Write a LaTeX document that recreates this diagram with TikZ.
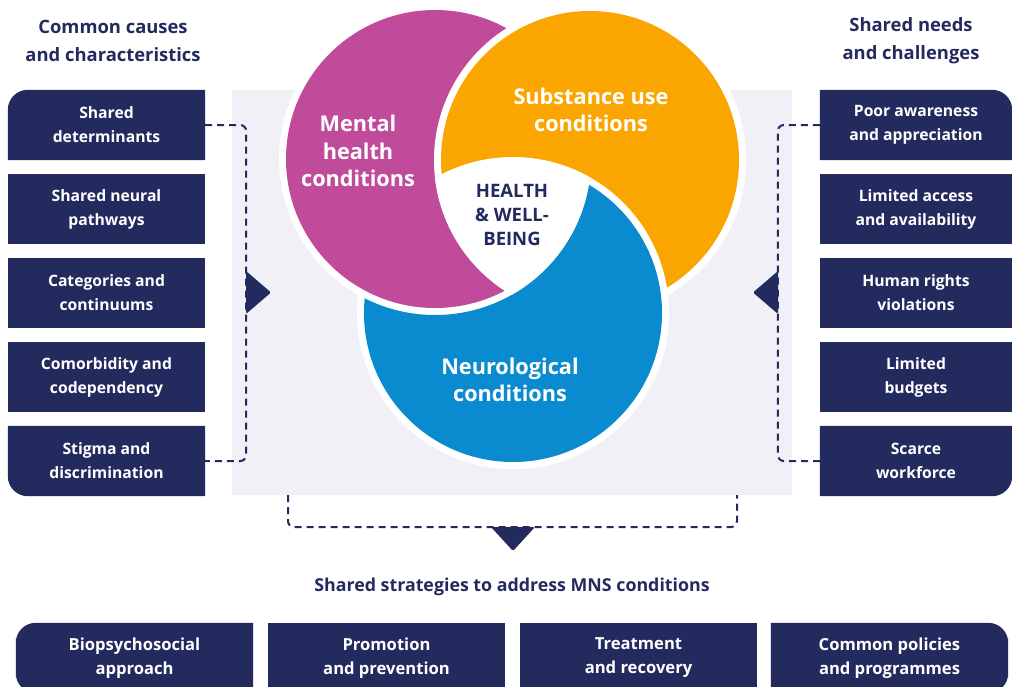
\documentclass[tikz,border=0pt]{standalone}
\usepackage{fontspec}
\setmainfont{Open Sans}
\usetikzlibrary{calc,backgrounds}

\definecolor{navy}{HTML}{232B5E}
\definecolor{mhpink}{HTML}{C04B9B}
\definecolor{suorange}{HTML}{FBA500}
\definecolor{neuroblue}{HTML}{0A8BCF}
\definecolor{panelgray}{HTML}{F1F0F6}

\begin{document}
\begin{tikzpicture}[x=1pt, y=-1pt,
        box/.style={rectangle, inner sep=0pt, minimum height=70pt, text=white, align=center, font=\bfseries\fontsize{15.7}{24}\selectfont},
        causebox/.style={box, minimum width=197pt, fill=navy},
        needbox/.style={box, minimum width=192pt, fill=navy},
        stratbox/.style={box, minimum width=237pt, fill=navy, font=\bfseries\fontsize{16.6}{24}\selectfont},
        heading/.style={text=navy, align=center, font=\bfseries\fontsize{18.4}{28}\selectfont},
        circlelabel/.style={text=white, align=center, font=\bfseries\fontsize{21.7}{27.5}\selectfont},
        bracket/.style={navy, line width=2pt, dash pattern=on 7pt off 5pt, rounded corners=6pt}]
        \useasboundingbox (0,0) rectangle (1012,686);
        \clip (0,0) rectangle (1012,686);

        \fill[panelgray] (232,90) rectangle (792,495);

        \node (hcause) [heading] at (113,41) {Common causes\\and characteristics};
        \node (hneed) [heading] at (911,41) {Shared needs\\and challenges};

        \node (lb1) [causebox, fill=none] at (106.5,125) {Shared\\determinants};
        \node (lb2) [causebox] at (106.5,209) {Shared neural\\pathways};
        \node (lb3) [causebox] at (106.5,293) {Categories and\\continuums};
        \node (lb4) [causebox] at (106.5,377) {Comorbidity and\\codependency};
        \node (lb5) [causebox, fill=none] at (106.5,461) {Stigma and\\discrimination};

        \node (rb1) [needbox, fill=none] at (916,125) {Poor awareness\\and appreciation};
        \node (rb2) [needbox] at (916,209) {Limited access\\and availability};
        \node (rb3) [needbox] at (916,293) {Human rights\\violations};
        \node (rb4) [needbox] at (916,377) {Limited\\budgets};
        \node (rb5) [needbox, fill=none] at (916,461) {Scarce\\workforce};

        \begin{scope}[on background layer]
            \fill[navy] (lb1.west) [rounded corners=20pt] |- (lb1.north) [sharp corners] -| (lb1.east) |- (lb1.south) -| (lb1.west) -- cycle;
            \fill[navy] (lb5.west) [rounded corners=20pt] |- (lb5.south) [sharp corners] -| (lb5.east) |- (lb5.north) -| (lb5.west) -- cycle;
            \fill[navy] (rb1.east) [rounded corners=20pt] |- (rb1.north) [sharp corners] -| (rb1.west) |- (rb1.south) -| (rb1.east) -- cycle;
            \fill[navy] (rb5.east) [rounded corners=20pt] |- (rb5.south) [sharp corners] -| (rb5.west) |- (rb5.north) -| (rb5.east) -- cycle;
        \end{scope}

        \coordinate (cm) at (435,159);
        \coordinate (cs) at (590,160);
        \coordinate (cn) at (513,313);
        \fill[white] (cm) circle[radius=156pt] (cs) circle[radius=156pt] (cn) circle[radius=156pt];
        \fill[mhpink] (cm) circle[radius=149pt];
        \fill[white] (cs) circle[radius=156pt];
        \fill[suorange] (cs) circle[radius=149pt];
        \begin{scope}[even odd rule]
            \clip (0,0) rectangle (1012,686) (cm) circle[radius=156pt];
            \fill[white] (cn) circle[radius=156pt];
            \fill[neuroblue] (cn) circle[radius=149pt];
        \end{scope}
        \begin{scope}
            \clip (cm) circle[radius=156pt];
            \clip (cs) circle[radius=156pt];
            \fill[white] (cn) circle[radius=156pt];
        \end{scope}

        \node (mental) [circlelabel] at (358,151) {Mental\\health\\conditions};
        \node (substance) [circlelabel] at (591,110) {Substance use\\conditions};
        \node (neuro) [circlelabel] at (510,380) {Neurological\\conditions};
        \node (wellbeing) [text=navy, align=center, font=\bfseries\fontsize{18.5}{24}\selectfont] at (512,215) {HEALTH\\\& WELL-\\BEING};

        \draw[bracket] (lb1.east) -- ++(41,0) |- (lb5.east);
        \draw[bracket] (rb1.west) -- ++(-42,0) |- (rb5.west);
        \coordinate (ltip) at (246,292.5);
        \coordinate (rtip) at (778,292.5);
        \fill[navy, rounded corners=1.5pt] (ltip) ++(0,-21.5) -- ++(25,21.5) -- ++(-25,21.5) -- cycle;
        \fill[navy, rounded corners=1.5pt] (rtip) ++(0,-21.5) -- ++(-25,21.5) -- ++(25,21.5) -- cycle;

        \coordinate (bl) at (288,495);
        \coordinate (br) at (737,495);
        \draw[bracket] (bl) -- ++(0,32) -| (br);
        \coordinate (dtip) at (513,527);
        \fill[navy, rounded corners=1.5pt] (dtip) ++(-22,0) -- ++(22,24) -- ++(22,-24) -- cycle;

        \node (hstrat) [heading, font=\bfseries\fontsize{17.8}{24}\selectfont] at (512,587) {Shared strategies to address MNS conditions};

        \node (bb1) [stratbox, fill=none] at (134.5,658) {Biopsychosocial\\approach};
        \node (bb2) [stratbox] at (386.5,658) {Promotion\\and prevention};
        \node (bb3) [stratbox] at (638.5,658) {Treatment\\and recovery};
        \node (bb4) [stratbox, fill=none] at (889.5,658) {Common policies\\and programmes};
        \begin{scope}[on background layer]
            \fill[navy] (bb1.north) [rounded corners=20pt] -| (bb1.west) |- (bb1.south) [sharp corners] -| (bb1.east) |- (bb1.north) -- cycle;
            \fill[navy] (bb4.north) [rounded corners=20pt] -| (bb4.east) |- (bb4.south) [sharp corners] -| (bb4.west) |- (bb4.north) -- cycle;
        \end{scope}
    \end{tikzpicture}
\end{document}
